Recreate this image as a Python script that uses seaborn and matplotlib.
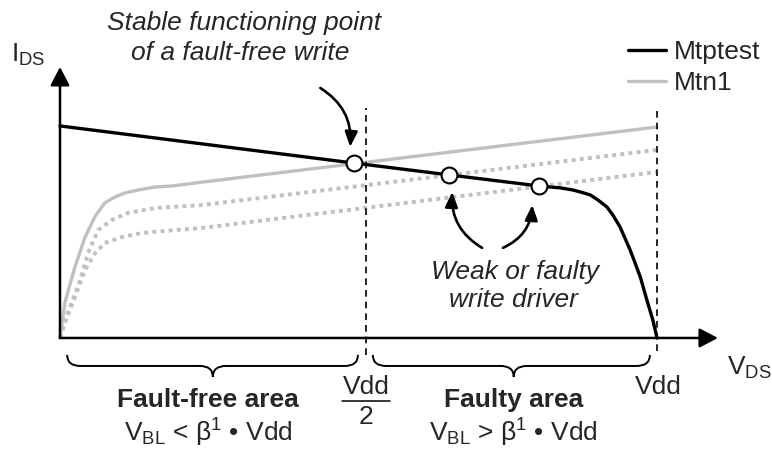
import matplotlib
matplotlib.use('Agg')
import matplotlib.pyplot as plt
from matplotlib.path import Path
from matplotlib.patches import PathPatch
import seaborn as sns
import pandas as pd

# V_DS in units of Vdd, I_DS normalised
mtptest_v = [0.0, 0.492, 0.652, 0.802, 0.821, 0.838, 0.859, 0.871, 0.888, 0.901,
             0.916, 0.926, 0.938, 0.955, 0.972, 0.983, 0.993, 1.0]
mtptest_i = [1.0, 0.825, 0.769, 0.717, 0.712, 0.708, 0.698, 0.689, 0.675, 0.651,
             0.618, 0.580, 0.524, 0.415, 0.288, 0.179, 0.085, 0.0]

mtn1_v = [0.0, 0.008, 0.025, 0.042, 0.059, 0.075, 0.092, 0.109, 0.131, 0.159, 0.188, 0.238, 1.0]
mtn1_i = [0.0, 0.165, 0.335, 0.476, 0.575, 0.637, 0.665, 0.684, 0.698, 0.712, 0.717, 0.735, 0.995]

weak1_v = [0.0, 0.013, 0.034, 0.047, 0.064, 0.087, 0.114, 0.159, 0.238, 1.0]
weak1_i = [0.0, 0.118, 0.274, 0.401, 0.509, 0.557, 0.590, 0.613, 0.627, 0.887]

weak2_v = [0.0, 0.008, 0.025, 0.042, 0.059, 0.075, 0.104, 0.137, 0.176, 0.238, 1.0]
weak2_i = [0.0, 0.071, 0.193, 0.321, 0.401, 0.448, 0.476, 0.495, 0.505, 0.519, 0.783]

points_v = [0.492, 0.652, 0.802]
points_i = [0.825, 0.769, 0.717]

vdd = 1.0
vdd_half = 0.513

sns.set_style("white")
plt.rcParams['font.family'] = ['Liberation Sans', 'DejaVu Sans']
plt.rcParams['mathtext.fontset'] = 'custom'
plt.rcParams['mathtext.rm'] = 'Liberation Sans'
plt.rcParams['mathtext.it'] = 'Liberation Sans:italic'
plt.rcParams['mathtext.bf'] = 'Liberation Sans:bold'
plt.rcParams['mathtext.default'] = 'regular'

FS = 19

fig = plt.figure(figsize=(7.72, 4.53), dpi=100)
ax = fig.add_axes([0, 0, 1, 1])
ax.set_xlim(-0.1005, 1.1926)
ax.set_ylim(-0.5425, 1.594)
ax.axis('off')

grey = '#c0c0c0'

df_w1 = pd.DataFrame({'v': weak1_v, 'i': weak1_i})
df_w2 = pd.DataFrame({'v': weak2_v, 'i': weak2_i})
df_n1 = pd.DataFrame({'v': mtn1_v, 'i': mtn1_i})
df_pt = pd.DataFrame({'v': mtptest_v, 'i': mtptest_i})

sns.lineplot(data=df_w1, x='v', y='i', ax=ax, sort=False, estimator=None, color=grey,
             lw=2.8, linestyle=(0, (1, 1.1)), legend=False)
sns.lineplot(data=df_w2, x='v', y='i', ax=ax, sort=False, estimator=None, color=grey,
             lw=2.8, linestyle=(0, (1, 1.1)), legend=False)
sns.lineplot(data=df_n1, x='v', y='i', ax=ax, sort=False, estimator=None, color=grey,
             lw=2.4, label='Mtn1')
sns.lineplot(data=df_pt, x='v', y='i', ax=ax, sort=False, estimator=None, color='black',
             lw=2.4, label='Mtptest')

# dashed markers at Vdd/2 and Vdd
ax.plot([vdd_half, vdd_half], [-0.08, 1.085], color='black', lw=1.2, ls=(0, (4, 3)))
ax.plot([vdd, vdd], [-0.06, 1.085], color='black', lw=1.2, ls=(0, (4, 3)))

sns.scatterplot(x=points_v, y=points_i, ax=ax, s=130, color='white', edgecolor='black',
                linewidth=1.5, zorder=5, legend=False)

# axes with arrow heads
axis_arrow = dict(arrowstyle='-|>,head_length=0.8,head_width=0.42', lw=1.8, color='black',
                  mutation_scale=14, shrinkA=0, shrinkB=0)
ax.annotate('', xy=(1.102, 0), xytext=(0, 0), arrowprops=axis_arrow)
ax.annotate('', xy=(0, 1.278), xytext=(0, 0), arrowprops=axis_arrow)

ax.text(-0.054, 1.335, 'I$_{DS}$', fontsize=FS, ha='center', va='center')
ax.text(1.117, -0.142, 'V$_{DS}$', fontsize=FS, ha='left', va='center')

# legend
handles, labels = ax.get_legend_handles_labels()
order = [labels.index('Mtptest'), labels.index('Mtn1')]
ax.legend([handles[k] for k in order], [labels[k] for k in order], loc='upper left',
          bbox_to_anchor=(0.813, 0.912), frameon=False, fontsize=FS, handlelength=1.45,
          handletextpad=0.3, borderpad=0, borderaxespad=0, labelspacing=0.28)

# annotations
ax.text(0.308, 1.486, 'Stable functioning point', fontsize=FS, style='italic',
        ha='center', va='center')
ax.text(0.302, 1.344, 'of a fault-free write', fontsize=FS, style='italic',
        ha='center', va='center')
ax.text(0.762, 0.311, 'Weak or faulty', fontsize=FS, style='italic', ha='center', va='center')
ax.text(0.759, 0.179, 'write driver', fontsize=FS, style='italic', ha='center', va='center')

curved = dict(arrowstyle='-|>,head_length=0.9,head_width=0.38', lw=1.9, color='black',
              mutation_scale=10, shrinkA=0, shrinkB=0)
ax.annotate('', xy=(0.486, 0.901), xytext=(0.436, 1.179),
            arrowprops=dict(curved, connectionstyle='arc3,rad=-0.3'))
ax.annotate('', xy=(0.657, 0.689), xytext=(0.707, 0.425),
            arrowprops=dict(curved, connectionstyle='arc3,rad=-0.3'))
ax.annotate('', xy=(0.791, 0.627), xytext=(0.742, 0.425),
            arrowprops=dict(curved, connectionstyle='arc3,rad=0.3'))


def brace(x0, x1, xm, y_top, y_mid, y_tip, r):
    verts = [(x0, y_top), (x0, y_mid), (x0 + r, y_mid),
             (xm - r, y_mid), (xm, y_mid), (xm, y_tip),
             (xm, y_mid), (xm + r, y_mid),
             (x1 - r, y_mid), (x1, y_mid), (x1, y_top)]
    codes = [Path.MOVETO, Path.CURVE3, Path.CURVE3,
             Path.LINETO, Path.CURVE3, Path.CURVE3,
             Path.CURVE3, Path.CURVE3,
             Path.LINETO, Path.CURVE3, Path.CURVE3]
    ax.add_patch(PathPatch(Path(verts, codes), fill=False, lw=1.4, color='black'))


brace(0.012, 0.499, 0.256, -0.080, -0.132, -0.184, 0.022)
brace(0.524, 0.988, 0.760, -0.080, -0.132, -0.184, 0.022)

# x tick-like labels
ax.text(vdd_half, -0.231, 'Vdd', fontsize=FS, ha='center', va='center')
ax.plot([0.472, 0.553], [-0.297, -0.297], color='black', lw=1.1)
ax.text(vdd_half, -0.373, '2', fontsize=FS, ha='center', va='center')
ax.text(1.002, -0.231, 'Vdd', fontsize=FS, ha='center', va='center')

ax.text(0.248, -0.292, 'Fault-free area', fontsize=FS, fontweight='bold',
        ha='center', va='center')
ax.text(0.248, -0.448, 'V$_{BL}$ < β$^{1}$ • Vdd', fontsize=FS, ha='center', va='center')
ax.text(0.760, -0.292, 'Faulty area', fontsize=FS, fontweight='bold',
        ha='center', va='center')
ax.text(0.759, -0.448, 'V$_{BL}$ > β$^{1}$ • Vdd', fontsize=FS, ha='center', va='center')

fig.savefig('out.png', dpi=100)
